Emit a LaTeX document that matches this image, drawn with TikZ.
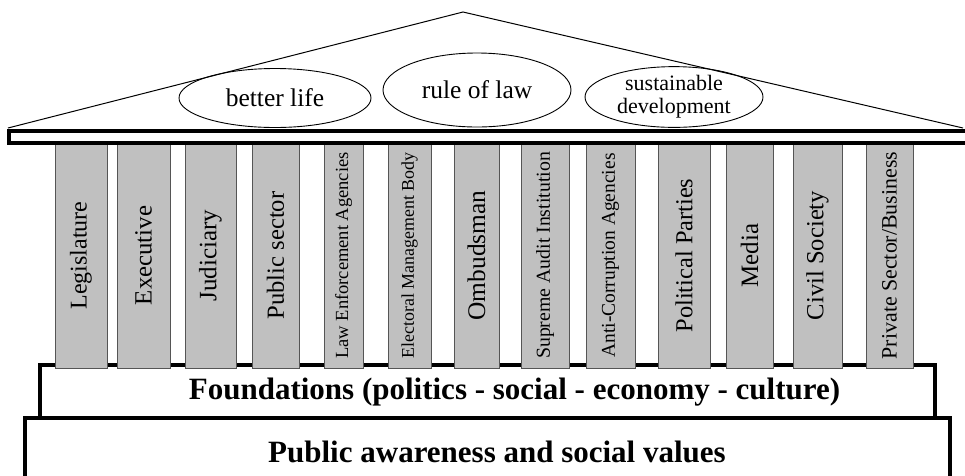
\documentclass[tikz,border=0pt]{standalone}
\usepackage{fontspec}
\setmainfont{Liberation Serif}
\usetikzlibrary{shapes.geometric, positioning}
\definecolor{pillargray}{RGB}{192,192,192}
\definecolor{pillaredge}{RGB}{85,85,85}
\tikzset{
    pillar/.style={rectangle, draw=pillaredge, fill=pillargray, line width=0.8pt, rotate=90, minimum width=225, minimum height=#1, inner sep=0pt},
    goal/.style={ellipse, draw=black, line width=0.9pt, inner sep=0pt},
    slab/.style={rectangle, draw=black, line width=4pt, fill=white, inner sep=0pt},
    slabtext/.style={font=\bfseries\fontsize{31}{32}\selectfont},
}

\begin{document}
\begin{tikzpicture}[x=1pt, y=-1pt]
    \useasboundingbox (0,0) rectangle (965,475);
    % roof and the three aims
    \draw[line width=1pt] (8,128) -- (463,12) -- (963,128);
    \node[goal, minimum width=192, minimum height=59, font=\fontsize{25.5}{26}\selectfont] (life) at (275,98) {better life};
    \node[goal, minimum width=188, minimum height=74, font=\fontsize{25.5}{26}\selectfont] (law) at (477,90) {rule of law};
    \node[goal, minimum width=178, minimum height=59, align=center, font=\fontsize{22}{23}\selectfont] (sustain) at (674,97) {sustainable\\development};
    % base slabs
    \node[slab, minimum width=895.5, minimum height=52.5] (found) at (487.25,391.25) {};
    \node[slab, minimum width=924.5, minimum height=80] (public) at (487.25,457.5) {};
    \node[slabtext] (foundtext) at (514.5,392) {Foundations (politics - social - economy - culture)};
    \node[slabtext] (publictext) at (497,451.5) {Public awareness and social values};
    % pillars
    \node[pillar=52, font=\fontsize{24}{24}\selectfont] (legis) at (81,255.5) {Legislature};
    \node[pillar=53, font=\fontsize{24.8}{25}\selectfont] (exec) at (143.5,255.5) {Executive};
    \node[pillar=51, font=\fontsize{25}{25}\selectfont] (judic) at (210.5,255.5) {Judiciary};
    \node[pillar=47, font=\fontsize{24.6}{25}\selectfont] (pubsec) at (275.5,255.5) {Public sector};
    \node[pillar=39, font=\fontsize{18.5}{19}\selectfont] (police) at (343.5,255.5) {Law Enforcement Agencies};
    \node[pillar=43, font=\fontsize{17.9}{18}\selectfont] (elect) at (409.5,255.5) {Electoral Management Body};
    \node[pillar=45, font=\fontsize{25.4}{26}\selectfont] (ombud) at (476.5,255.5) {Ombudsman};
    \node[pillar=48, font=\fontsize{19.8}{20}\selectfont] (audit) at (545,255.5) {Supreme Audit Institution};
    \node[pillar=49, font=\fontsize{19.5}{20}\selectfont] (anticor) at (610.5,255.5) {Anti-Corruption Agencies};
    \node[pillar=52, font=\fontsize{24.4}{25}\selectfont] (parties) at (684,255.5) {Political Parties};
    \node[pillar=47, font=\fontsize{25}{25}\selectfont] (media) at (749.5,255.5) {Media};
    \node[pillar=49, font=\fontsize{24.6}{25}\selectfont] (civil) at (817.5,255.5) {Civil Society};
    \node[pillar=47, font=\fontsize{21.9}{22}\selectfont] (private) at (889.5,255.5) {Private Sector/Business};
    % beam resting on the pillars
    \draw[line width=4pt, fill=white] (9,131) rectangle (975,143);
\end{tikzpicture}
\end{document}
